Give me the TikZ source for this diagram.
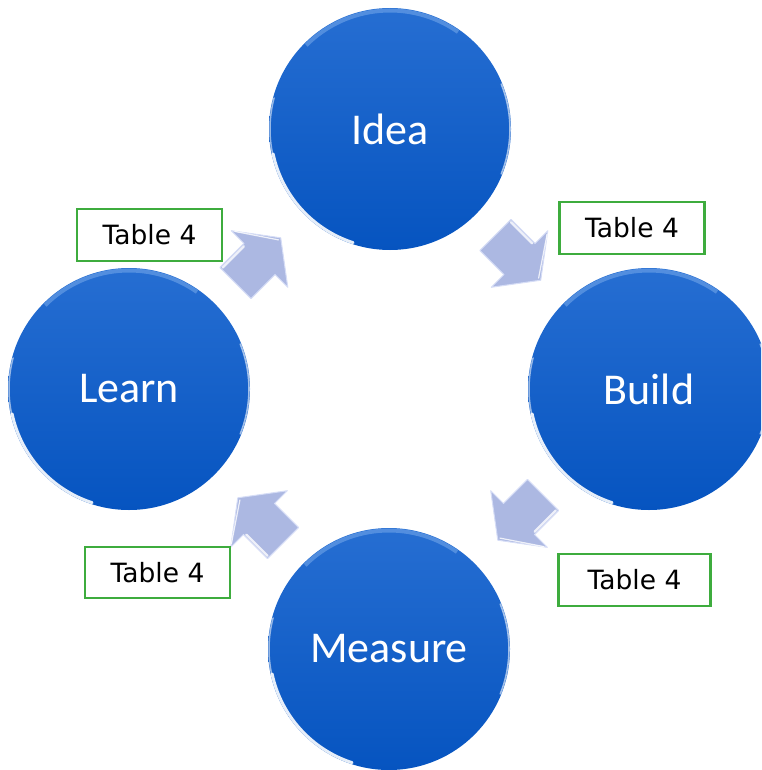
\documentclass[tikz,border=0pt]{standalone}
\usepackage{fontspec}
\setmainfont{Carlito}
\newfontfamily\boxfont{DejaVu Sans}
\usetikzlibrary{calc}
\definecolor{circtop}{RGB}{38,110,210}
\definecolor{circbot}{RGB}{6,84,192}
\definecolor{rimblue}{RGB}{120,170,235}
\definecolor{arrowfill}{RGB}{172,184,226}
\definecolor{arrowlight}{RGB}{214,221,246}
\definecolor{boxgreen}{RGB}{62,172,62}
\newcommand\cyclearrow[2]{%
  \begin{scope}[shift={#1}, rotate=#2]
    \path[blockarrow] (-34,-22) -- (0,-22) -- (0,-40) -- (30,0) -- (0,40) -- (0,22) -- (-34,22) -- cycle;
    \draw[arrowhl] (-32,-20) -- (-2,-20);
    \draw[arrowhl, line width=1.2pt] (2,-37) -- (27,0);
  \end{scope}}
\newcommand\circrims[1]{%
  \draw[rimblue, line width=4pt, opacity=.55] ([shift={(55:118.5pt)}]#1.center) arc[start angle=55, end angle=135, radius=118.5pt];
  \draw[white, line width=3pt, opacity=.9, line cap=round] ([shift={(192:119.5pt)}]#1.center) arc[start angle=192, end angle=252, radius=119.5pt];
  \draw[white, line width=1.5pt, opacity=.55, line cap=round] ([shift={(165:120pt)}]#1.center) arc[start angle=165, end angle=192, radius=120pt];
  \draw[white, line width=1.6pt, opacity=.6, line cap=round] ([shift={(-22:120pt)}]#1.center) arc[start angle=-22, end angle=22, radius=120pt];
}
\begin{document}
\begin{tikzpicture}[x=1pt,y=-1pt,
  circ/.style={circle, minimum size=242pt, inner sep=0pt, top color=circtop, bottom color=circbot, draw=none, text=white, font=\fontsize{44}{50}\selectfont},
  tbox/.style={draw=boxgreen, line width=2.4pt, fill=white, minimum width=145pt, minimum height=52pt, inner sep=0pt, font=\boxfont\fontsize{26.5}{30}\selectfont},
  blockarrow/.style={fill=arrowfill, draw=arrowlight, line width=1pt, line join=round},
  arrowhl/.style={draw=white, line width=2.2pt, opacity=.8, line cap=round}
]
\useasboundingbox (0,0) rectangle (761,770);
\begin{scope}
\clip (0,0) rectangle (761,770);
\node[circ] (idea) at (390,129) {Idea};
\node[circ] (build) at (649,389) {Build};
\node[circ] (measure) at (389,649) {Measure};
\node[circ] (learn) at (129,389) {Learn};
\circrims{idea}
\circrims{build}
\circrims{measure}
\circrims{learn}
\cyclearrow{($(idea)!0.5!(build)$)}{-45}
\cyclearrow{($(build)!0.5!(measure)$)}{-135}
\cyclearrow{($(measure)!0.5!(learn)$)}{135}
\cyclearrow{($(learn)!0.5!(idea)$)}{45}
\node[tbox] (t1) at (149.5,235) {Table 4};
\node[tbox] (t2) at (632,228) {Table 4};
\node[tbox, minimum width=152pt] (t3) at (634.5,580) {Table 4};
\node[tbox, minimum height=51pt] (t4) at (157.5,572.5) {Table 4};
\end{scope}
\end{tikzpicture}
\end{document}
